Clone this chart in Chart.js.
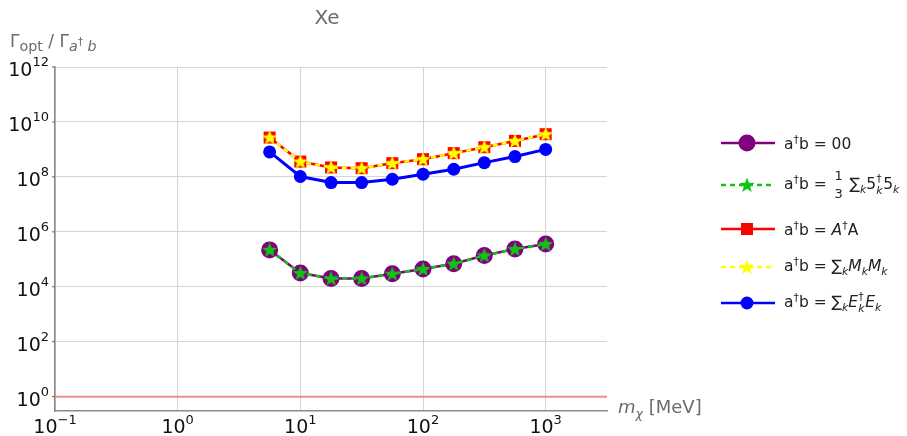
<!DOCTYPE html>
<html><head><meta charset="utf-8">
<script src="https://cdn.jsdelivr.net/npm/chart.js@4.4.1/dist/chart.umd.min.js"></script>
<style>
html,body{margin:0;padding:0;background:#fff;}
#wrap{position:relative;width:907px;height:436px;font-family:"DejaVu Sans",sans-serif;}
canvas{position:absolute;left:0;top:0;}
.t{position:absolute;white-space:nowrap;color:#6b6b6b;}
#title{left:327px;top:5px;font-size:20px;transform:translateX(-50%);}
#ylab{left:10px;top:31px;font-size:17px;}
#ylab sub{font-size:84%;}
#ylab sub sup{font-size:75%;}
#xlab{left:618px;top:396px;font-size:18px;}
#legend{position:absolute;left:718px;top:0;}
.row{position:absolute;left:0;display:flex;align-items:center;height:30px;color:#222;font-size:15.5px;white-space:nowrap;}
.row svg{margin-right:6px;}
sub,sup{font-size:70%;}
i{font-style:italic;}
.stk{position:relative;display:inline-block;height:0;vertical-align:baseline;}
.stk span{position:absolute;left:0;font-size:11px;line-height:11px;}
.frac{position:relative;display:inline-block;width:9px;height:0;margin:0 6px 0 3px;vertical-align:baseline;}
.frac span{position:absolute;left:0;font-size:13px;line-height:13px;}
</style></head>
<body><div id="wrap">
<canvas id="c" width="907" height="436"></canvas>
<div class="t" id="title">Xe</div>
<div class="t" id="ylab">Γ<sub>opt</sub> / Γ<sub><i>a</i><sup>†</sup> <i>b</i></sub></div>
<div class="t" id="xlab"><i>m</i><sub><i>χ</i></sub> [MeV]</div>
<div id="legend"></div>
</div>
<script>
// ---- data ----
const massMeV = [5.62, 10, 17.8, 31.6, 56.2, 100, 178, 316, 562, 1000];
const ratio00 = [2.2e5, 3.15e4, 2.0e4, 2.0e4, 2.97e4, 4.4e4, 6.9e4, 1.37e5, 2.35e5, 3.57e5];
const ratioFiveFive = [2.2e5, 3.15e4, 2.0e4, 2.0e4, 2.97e4, 4.4e4, 6.9e4, 1.37e5, 2.35e5, 3.57e5];
const ratioAA = [2.7e9, 3.6e8, 2.2e8, 2.07e8, 3.15e8, 4.4e8, 7.3e8, 1.2e9, 2.04e9, 3.57e9];
const ratioMM = [2.7e9, 3.6e8, 2.2e8, 2.07e8, 3.15e8, 4.4e8, 7.3e8, 1.2e9, 2.04e9, 3.57e9];
const ratioEE = [8.1e8, 1.03e8, 6.2e7, 6.2e7, 8.2e7, 1.25e8, 1.9e8, 3.3e8, 5.5e8, 1.0e9];
const unityRatio = [1, 1];
const unityX = [0.1, 3162];
const xTickExps = [-1, 0, 1, 2, 3];
const yTickExps = [0, 2, 4, 6, 8, 10, 12];
const STK = (a, b, w) => `<span class="stk" style="width:${w}px"><span style="top:-17px">${a}</span><span style="top:-5px">${b}</span></span>`;
const legendLabels = [
  'a<sup>†</sup>b = 00',
  'a<sup>†</sup>b = <span class="frac"><span style="top:-21px">1</span><span style="top:-3px">3</span></span>∑<sub><i>k</i></sub>5' + STK('†', '<i>k</i>', 7) + '5<sub><i>k</i></sub>',
  'a<sup>†</sup>b = <i>A</i><sup>†</sup>A',
  'a<sup>†</sup>b = ∑<sub><i>k</i></sub><i>M</i><sub><i>k</i></sub><i>M</i><sub><i>k</i></sub>',
  'a<sup>†</sup>b = ∑<sub><i>k</i></sub><i>E</i>' + STK('†', '<i>k</i>', 7) + '<i>E</i><sub><i>k</i></sub>'
];
const legendY = [143, 185, 229, 267, 303];

// ---- styles ----
function starCanvas(R, fill) {
  const s = Math.ceil(R * 2 + 2), c = document.createElement('canvas');
  c.width = s; c.height = s;
  const g = c.getContext('2d'); g.fillStyle = fill; g.beginPath();
  for (let i = 0; i < 10; i++) {
    const r = i % 2 ? R * 0.42 : R, a = -Math.PI / 2 + i * Math.PI / 5;
    g.lineTo(s / 2 + r * Math.cos(a), s / 2 + 0.5 + r * Math.sin(a));
  }
  g.closePath(); g.fill();
  return c;
}
const greenStar = starCanvas(8, '#11c411');
const yellowStar = starCanvas(8, '#ffff00');

const xy = (xs, ys) => xs.map((x, i) => ({x: x, y: ys[i]}));

const datasets = [
  {data: xy(unityX, unityRatio), borderColor: 'rgba(240,128,128,0.85)', borderWidth: 2, pointRadius: 0, order: 9},
  {data: xy(massMeV, ratio00), borderColor: '#800080', backgroundColor: '#800080', borderWidth: 2.5, pointStyle: 'circle', pointRadius: 8.5, order: 6},
  {data: xy(massMeV, ratioFiveFive), borderColor: '#11c411', borderWidth: 2.5, borderDash: [5, 4], pointStyle: greenStar, order: 5},
  {data: xy(massMeV, ratioAA), borderColor: '#ff0000', backgroundColor: '#ff0000', borderWidth: 2.5, pointStyle: 'rect', pointRadius: 8.5, order: 4},
  {data: xy(massMeV, ratioMM), borderColor: '#ffff00', borderWidth: 2.5, borderDash: [5, 4], pointStyle: yellowStar, order: 3},
  {data: xy(massMeV, ratioEE), borderColor: '#0000ff', backgroundColor: '#0000ff', borderWidth: 3, pointStyle: 'circle', pointRadius: 6.5, order: 2}
];
datasets.forEach(d => { d.pointBorderWidth = 0; d.pointHoverRadius = d.pointRadius; d.tension = 0; d.fill = false; });

const tickPlugin = {
  id: 'ticks10',
  afterDraw(chart) {
    const ctx = chart.ctx, xs = chart.scales.x, ys = chart.scales.y;
    ctx.save();
    ctx.fillStyle = '#111';
    ctx.strokeStyle = '#666'; ctx.lineWidth = 1;
    const base = '19px "DejaVu Sans"', sup = '13px "DejaVu Sans"';
    xTickExps.forEach(e => {
      const px = xs.getPixelForValue(Math.pow(10, e));
      ctx.font = base; const w1 = ctx.measureText('10').width;
      ctx.font = sup; const w2 = ctx.measureText(String(e).replace('-', '\u2212')).width;
      const x0 = px - (w1 + w2) / 2;
      ctx.textBaseline = 'alphabetic'; ctx.textAlign = 'left';
      ctx.font = base; ctx.fillText('10', x0, 433);
      ctx.font = sup; ctx.fillText(String(e).replace('-', '\u2212'), x0 + w1, 424);
    });
    yTickExps.forEach(e => {
      const py = ys.getPixelForValue(Math.pow(10, e));
      ctx.font = sup; const w2 = ctx.measureText(String(e)).width;
      ctx.font = base; const w1 = ctx.measureText('10').width;
      const xr = 49;
      ctx.textAlign = 'left'; ctx.textBaseline = 'alphabetic';
      ctx.font = base; ctx.fillText('10', xr - w2 - w1, py + 9);
      ctx.font = sup; ctx.fillText(String(e), xr - w2, py - 1);
      ctx.beginPath(); ctx.moveTo(chart.chartArea.left - 3, py); ctx.lineTo(chart.chartArea.left, py); ctx.stroke();
    });
    ctx.restore();
  }
};

new Chart(document.getElementById('c'), {
  type: 'line',
  data: {datasets: datasets},
  options: {
    responsive: false, animation: false, devicePixelRatio: 1,
    layout: {padding: {left: 55, right: 300, top: 67, bottom: 25}},
    plugins: {legend: {display: false}, tooltip: {enabled: false}},
    scales: {
      x: {
        type: 'logarithmic', min: 0.1, max: 3162,
        afterBuildTicks: s => { s.ticks = xTickExps.map(e => ({value: Math.pow(10, e)})); },
        ticks: {display: false},
        grid: {color: '#d4d4d4', lineWidth: 1, drawTicks: false},
        border: {display: true, color: '#8a8a8a', width: 1.5}
      },
      y: {
        type: 'logarithmic', min: Math.pow(10, -0.5), max: 1e12,
        afterBuildTicks: s => { s.ticks = yTickExps.map(e => ({value: Math.pow(10, e)})); },
        ticks: {display: false},
        grid: {color: '#d4d4d4', lineWidth: 1, drawTicks: false},
        border: {display: true, color: '#8a8a8a', width: 1.5}
      }
    }
  },
  plugins: [tickPlugin]
});

// ---- legend (HTML) ----
const legendStyles = [
  {c: '#800080', dash: '', m: 'circle', r: 8.5},
  {c: '#11c411', dash: '5 4', m: 'star', r: 8},
  {c: '#ff0000', dash: '', m: 'rect', r: 6},
  {c: '#ffff00', dash: '5 4', m: 'star', r: 8},
  {c: '#0000ff', dash: '', m: 'circle', r: 6.5}
];
function starPath(cx, cy, R) {
  let p = '';
  for (let i = 0; i < 10; i++) {
    const r = i % 2 ? R * 0.42 : R, a = -Math.PI / 2 + i * Math.PI / 5;
    p += (i ? 'L' : 'M') + (cx + r * Math.cos(a)).toFixed(2) + ' ' + (cy + 0.5 + r * Math.sin(a)).toFixed(2);
  }
  return p + 'Z';
}
const leg = document.getElementById('legend');
legendLabels.forEach((lab, i) => {
  const s = legendStyles[i];
  let mk;
  if (s.m === 'circle') mk = `<circle cx="29" cy="15" r="${s.r}" fill="${s.c}"/>`;
  else if (s.m === 'rect') mk = `<rect x="${29 - s.r}" y="${15 - s.r}" width="${2 * s.r}" height="${2 * s.r}" fill="${s.c}"/>`;
  else mk = `<path d="${starPath(29, 15, s.r)}" fill="${s.c}"/>`;
  const row = document.createElement('div');
  row.className = 'row';
  row.style.top = (legendY[i] - 15) + 'px';
  row.innerHTML = `<svg width="60" height="30"><line x1="3" y1="15" x2="57" y2="15" stroke="${s.c}" stroke-width="2.5" ${s.dash ? 'stroke-dasharray="' + s.dash + '"' : ''}/>${mk}</svg><span>${lab}</span>`;
  leg.appendChild(row);
});
</script>
</body></html>
